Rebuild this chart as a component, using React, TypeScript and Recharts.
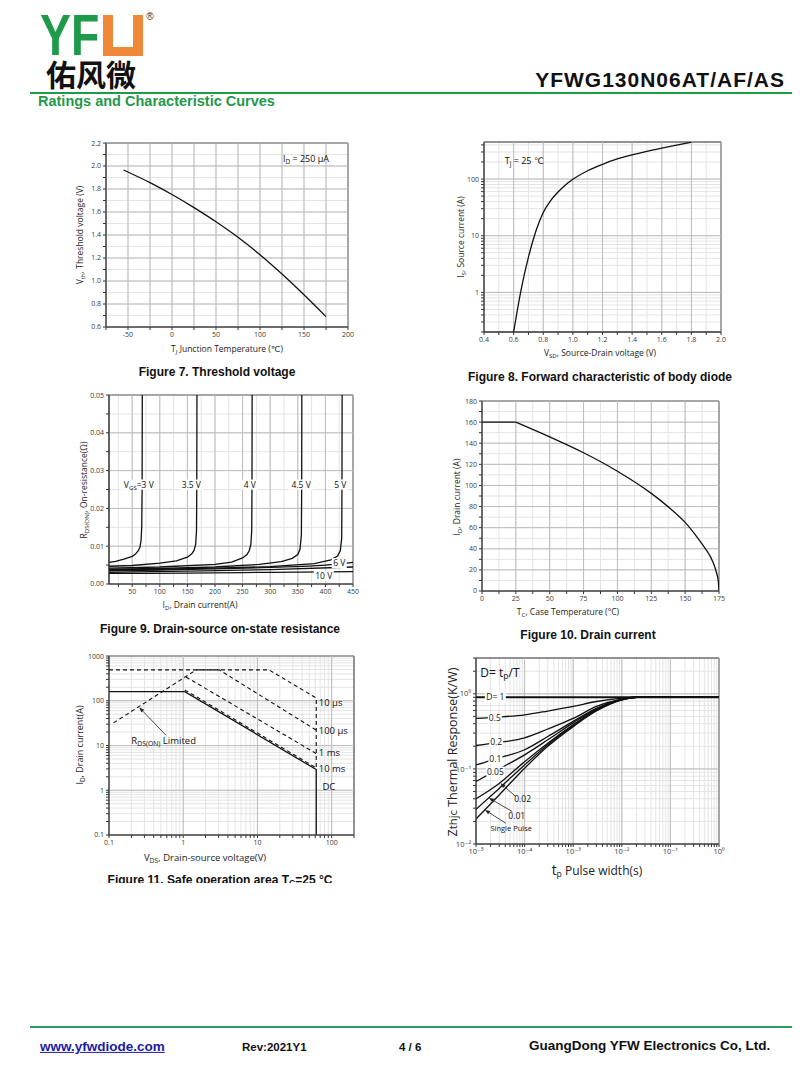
import React from "react";
import {
  LineChart,
  Line,
  XAxis,
  YAxis,
  CartesianGrid,
  ReferenceLine,
  ReferenceArea,
  ReferenceDot,
} from "recharts";

const FONT = "'Open Sans', 'DejaVu Sans', sans-serif";
const ARIAL = "'Liberation Sans', Arial, sans-serif";
const GREEN = "#1f9a4a";
const INK = "#111";

// ---- Figure 7: threshold voltage vs junction temperature
const tjTemp = [-55, -25, 0, 25, 50, 75, 100, 125, 150, 175];
const vthVolts = [1.965, 1.855, 1.752, 1.638, 1.515, 1.38, 1.228, 1.06, 0.88, 0.69];
const fig7X = [-75, -50, -25, 0, 25, 50, 75, 100, 125, 150, 175, 200];
const fig7XLabels = [-50, 0, 50, 100, 150, 200];
const fig7Y = [0.6, 0.7, 0.8, 0.9, 1.0, 1.1, 1.2, 1.3, 1.4, 1.5, 1.6, 1.7, 1.8, 1.9, 2.0, 2.1, 2.2];
const fig7YLabels = [0.6, 0.8, 1.0, 1.2, 1.4, 1.6, 1.8, 2.0, 2.2];

// ---- Figure 8: body diode forward characteristic
const vsdVolts = [0.6, 0.65, 0.7, 0.75, 0.8, 0.85, 0.9, 0.95, 1.0, 1.1, 1.2, 1.3, 1.4, 1.5, 1.6, 1.7, 1.8];
const isAmps = [0.2, 1.1, 4.2, 12, 25.7, 41.7, 58.9, 78.5, 98.9, 140, 182, 226, 266, 307, 350, 396, 446];
const fig8X = [0.4, 0.5, 0.6, 0.7, 0.8, 0.9, 1.0, 1.1, 1.2, 1.3, 1.4, 1.5, 1.6, 1.7, 1.8, 1.9, 2.0];
const fig8XLabels = [0.4, 0.6, 0.8, 1.0, 1.2, 1.4, 1.6, 1.8, 2.0];
const fig8YLabels = [1, 10, 100];

// ---- Figure 9: on-resistance vs drain current
const id3 = [8, 20, 35, 50, 56, 61, 64, 66, 67.3, 68, 68.3];
const r3 = [0.0057, 0.006, 0.0066, 0.0073, 0.0079, 0.0088, 0.0097, 0.0115, 0.015, 0.025, 0.05];
const id35 = [8, 50, 100, 130, 150, 158, 162, 165, 166.5, 167, 167.3];
const r35 = [0.0047, 0.0049, 0.0055, 0.0061, 0.0071, 0.008, 0.0089, 0.0105, 0.014, 0.025, 0.05];
const id4 = [8, 100, 200, 230, 250, 258, 262, 265, 266.5, 267, 267.3];
const r4 = [0.0042, 0.0045, 0.0052, 0.0058, 0.0069, 0.0078, 0.0088, 0.0105, 0.014, 0.025, 0.05];
const id45 = [8, 100, 200, 280, 320, 340, 350, 354, 356.5, 357, 357.3];
const r45 = [0.0039, 0.0041, 0.0045, 0.0052, 0.0059, 0.0068, 0.0078, 0.0092, 0.013, 0.025, 0.05];
const id5 = [8, 100, 200, 300, 380, 410, 422, 427, 429.5, 430, 430.3];
const r5 = [0.0037, 0.0039, 0.0042, 0.0046, 0.0054, 0.0064, 0.0074, 0.0088, 0.012, 0.025, 0.05];
const id6 = [8, 100, 200, 300, 400, 450];
const r6 = [0.0035, 0.0037, 0.004, 0.0044, 0.005, 0.0057];
const id8 = [8, 150, 300, 450];
const r8 = [0.0031, 0.0034, 0.0038, 0.0045];
const id10 = [8, 150, 300, 450];
const r10 = [0.0028, 0.0029, 0.0031, 0.0033];
const fig9X = [25, 50, 75, 100, 125, 150, 175, 200, 225, 250, 275, 300, 325, 350, 375, 400, 425, 450];
const fig9XLabels = [50, 100, 150, 200, 250, 300, 350, 400, 450];
const fig9Y = [0, 0.005, 0.01, 0.015, 0.02, 0.025, 0.03, 0.035, 0.04, 0.045, 0.05];
const fig9YLabels = [0, 0.01, 0.02, 0.03, 0.04, 0.05];

// ---- Figure 10: drain current vs case temperature
const tcFlat = [0, 25];
const idFlat = [160, 160];
const tcTemp = [25, 50, 75, 100, 125, 140, 150, 160, 165, 170, 173, 174.5, 175];
const idCase = [160, 146, 131, 113.5, 92.5, 77, 65, 49, 40, 29, 18, 9, 0];
const fig10X = [0, 12.5, 25, 37.5, 50, 62.5, 75, 87.5, 100, 112.5, 125, 137.5, 150, 162.5, 175];
const fig10XLabels = [0, 25, 50, 75, 100, 125, 150, 175];
const fig10Y = [0, 10, 20, 30, 40, 50, 60, 70, 80, 90, 100, 110, 120, 130, 140, 150, 160, 170, 180];
const fig10YLabels = [0, 20, 40, 60, 80, 100, 120, 140, 160, 180];

// ---- Figure 11: safe operating area
const dcV = [0.1, 1.05, 62, 62];
const dcI = [160, 160, 2.9, 0.1];
const ms10V = [1.05, 62];
const ms10I = [175, 3.15];
const ms1V = [1.09, 62];
const ms1I = [340, 6.6];
const us100V = [1.5, 3.05, 62];
const us100I = [490, 490, 22];
const us10V = [0.1, 14.3, 62, 62];
const us10I = [490, 490, 115, 3.1];
const rdsV = [0.115, 1.5];
const rdsI = [32, 490];
const fig11XLabels = [0.1, 1, 10, 100];
const fig11YLabels = [0.1, 1, 10, 100, 1000];

// ---- Figure 12: transient thermal impedance
const tp = [1e-5, 3e-5, 1e-4, 3e-4, 1e-3, 3e-3, 1e-2, 2e-2, 1];
const zD1 = [0.9, 0.9, 0.9, 0.9, 0.9, 0.9, 0.9, 0.9, 0.9];
const zD05 = [0.47, 0.49, 0.525, 0.59, 0.68, 0.79, 0.875, 0.9, 0.9];
const zD02 = [0.205, 0.225, 0.26, 0.34, 0.47, 0.68, 0.85, 0.9, 0.9];
const zD01 = [0.113, 0.14, 0.18, 0.27, 0.43, 0.64, 0.85, 0.9, 0.9];
const zD005 = [0.068, 0.1, 0.154, 0.244, 0.41, 0.625, 0.84, 0.9, 0.9];
const zD002 = [0.04, 0.064, 0.125, 0.22, 0.386, 0.61, 0.835, 0.9, 0.9];
const zD001 = [0.029, 0.055, 0.113, 0.21, 0.38, 0.6, 0.832, 0.9, 0.9];
const zSingle = [0.0215, 0.045, 0.102, 0.2, 0.366, 0.59, 0.83, 0.9, 0.9];
const fig12XDecades = [1e-5, 1e-4, 1e-3, 1e-2, 1e-1, 1];
const fig12XLabels = ["10⁻⁵", "10⁻⁴", "10⁻³", "10⁻²", "10⁻¹", "10⁰"];
const fig12YDecades = [0.01, 0.1, 1];
const fig12YLabels = ["10⁻²", "10⁻¹", "10⁰"];

const pts = (xs: number[], ys: number[]) => xs.map((x, i) => ({ x, y: ys[i] }));

// 1..9 per decade, kept inside [lo, hi]
const logTicks = (lo: number, hi: number) => {
  const out: number[] = [];
  for (let e = Math.floor(Math.log10(lo)); e <= Math.ceil(Math.log10(hi)); e++) {
    for (let m = 1; m < 10; m++) {
      const v = +(m * Math.pow(10, e)).toPrecision(6);
      if (v >= lo * 0.999 && v <= hi * 1.001) out.push(v);
    }
  }
  return out;
};

const near = (a: number, b: number) => Math.abs(a - b) <= Math.abs(b) * 1e-6 + 1e-12;
const only = (labels: number[], f: (v: number) => string = String) => (v: number) =>
  labels.some((l) => near(v, l)) ? f(v) : "";
const named = (vals: number[], names: string[]) => (v: number) => {
  const i = vals.findIndex((d) => near(v, d));
  return i >= 0 ? names[i] : "";
};

type PlotProps = {
  box: number[];
  xDomain: number[];
  yDomain: number[];
  xTicks: number[];
  yTicks: number[];
  xFmt: (v: number) => string;
  yFmt: (v: number) => string;
  xLog?: boolean;
  yLog?: boolean;
  xMajor?: number[];
  yMajor?: number[];
  tickFont?: number;
  children?: React.ReactNode;
};

function Plot({ box, xDomain, yDomain, xTicks, yTicks, xFmt, yFmt, xLog, yLog, xMajor = [], yMajor = [], tickFont = 7, children }: PlotProps) {
  const YW = 36, MT = 4, MR = 8, XH = 18;
  const [x0, y0, x1, y1] = box;
  const tick = { fontSize: tickFont, fill: "#3a3a3a", fontFamily: FONT };
  return (
    <div style={{ position: "absolute", left: x0 - YW, top: y0 - MT }}>
      <LineChart width={x1 - x0 + YW + MR} height={y1 - y0 + MT + XH} margin={{ top: MT, right: MR, bottom: 0, left: 0 }}>
        <CartesianGrid stroke="#e4e4e4" />
        <XAxis
          type="number"
          dataKey="x"
          scale={xLog ? "log" : "linear"}
          domain={xDomain}
          ticks={xTicks}
          interval={0}
          allowDataOverflow
          tickFormatter={xFmt}
          height={XH}
          tickSize={3}
          stroke="#333"
          tick={tick}
        />
        <YAxis
          type="number"
          scale={yLog ? "log" : "linear"}
          domain={yDomain}
          ticks={yTicks}
          interval={0}
          allowDataOverflow
          tickFormatter={yFmt}
          width={YW}
          tickSize={3}
          stroke="#333"
          tick={tick}
        />
        {xMajor.map((v) => (
          <ReferenceLine key={"mx" + v} x={v} stroke="#bcbcbc" />
        ))}
        {yMajor.map((v) => (
          <ReferenceLine key={"my" + v} y={v} stroke="#bcbcbc" />
        ))}
        <ReferenceArea x1={xDomain[0]} x2={xDomain[1]} y1={yDomain[0]} y2={yDomain[1]} fill="none" stroke="#333" ifOverflow="visible" />
        {children}
      </LineChart>
    </div>
  );
}

function Tag(p: any) {
  const { viewBox, t, size = 8, anchor = "middle", bg = 0, dx = 0, dy = 0 } = p;
  if (!viewBox) return null;
  const x = viewBox.x + (viewBox.width || 0) / 2 + dx;
  const y = viewBox.y + (viewBox.height || 0) / 2 + dy;
  const bx = anchor === "middle" ? x - bg / 2 : anchor === "end" ? x - bg : x;
  return (
    <g>
      {bg > 0 && <rect x={bx - 1} y={y - size * 0.6} width={bg + 2} height={size * 1.2} fill="#fff" />}
      <text x={x} y={y} dy={size * 0.36} textAnchor={anchor} fontSize={size} fontFamily={FONT} fill={INK}>
        {t}
      </text>
    </g>
  );
}

function Arrow(p: any) {
  const { x1, y1, x2, y2 } = p;
  if ([x1, y1, x2, y2].some((v) => typeof v !== "number" || isNaN(v))) return null;
  const a = Math.atan2(y2 - y1, x2 - x1);
  const L = 5, W = 2;
  const bx = x2 - L * Math.cos(a), by = y2 - L * Math.sin(a);
  const head = `${x2},${y2} ${bx + W * Math.sin(a)},${by - W * Math.cos(a)} ${bx - W * Math.sin(a)},${by + W * Math.cos(a)}`;
  return (
    <g>
      <line x1={x1} y1={y1} x2={bx} y2={by} stroke="#333" strokeWidth={0.9} />
      <polygon points={head} fill="#222" />
    </g>
  );
}

const note = (x: number, y: number, t: React.ReactNode, o: any = {}) => (
  <ReferenceDot key={`${x}-${y}`} x={x} y={y} r={0} fill="none" stroke="none" ifOverflow="visible" label={<Tag t={t} {...o} />} />
);

const sub = (main: string, s: string, rest = "", size = 8) => (
  <>
    <tspan>{main}</tspan>
    <tspan dy={2} fontSize={size * 0.72}>
      {s}
    </tspan>
    <tspan dy={-2}>{rest}</tspan>
  </>
);

function T({ x, y, size = 9, bold = false, rot = false, anchor = "middle", color = "#222", family = FONT, lh = 1.2, style = {}, children }: any) {
  const tx = anchor === "middle" ? "-50%" : anchor === "end" ? "-100%" : "0";
  return (
    <div
      style={{
        position: "absolute",
        left: x,
        top: y,
        transform: `translate(${tx},-50%)${rot ? " rotate(-90deg)" : ""}`,
        fontSize: size,
        fontWeight: bold ? 700 : 400,
        fontFamily: family,
        color,
        whiteSpace: "nowrap",
        lineHeight: lh,
        ...style,
      }}
    >
      {children}
    </div>
  );
}

const S = ({ c }: { c: string }) => <span style={{ fontSize: "0.72em", verticalAlign: "-0.3em", lineHeight: 0 }}>{c}</span>;

const solid = { stroke: INK, strokeWidth: 1.3, dot: false, activeDot: false } as const;

export default function App() {
  const f8Y = logTicks(0.2, 450);
  const f11X = logTicks(0.1, 200);
  const f11Y = logTicks(0.1, 1000);
  const f12X = logTicks(1e-5, 1);
  const f12Y = logTicks(0.01, 3);

  return (
    <div style={{ position: "absolute", left: 0, top: 0, width: 800, height: 1086, background: "#fff", overflow: "hidden", fontFamily: ARIAL }}>
      {/* header */}
      <div style={{ position: "absolute", left: 40, top: 13, fontFamily: ARIAL, fontWeight: 700, fontSize: 58, color: GREEN, lineHeight: 0.75, transform: "scaleX(0.8)", transformOrigin: "left top" }}>
        YF
      </div>
      <div style={{ position: "absolute", left: 103, top: 15, width: 40, height: 41, background: "#f0883a" }}>
        <div style={{ position: "absolute", left: 10, top: 0, width: 20, height: 32, background: "#fff" }} />
      </div>
      <T x={150} y={17} size={10} color="#333" family={ARIAL}>®</T>
      <T x={46} y={73} size={30} bold anchor="start" color="#111" lh={1} family="'Noto Sans CJK SC', sans-serif">佑风微</T>
      <T x={785} y={80} size={21} bold anchor="end" color="#111" family={ARIAL} style={{ letterSpacing: 1 }}>YFWG130N06AT/AF/AS</T>
      <div style={{ position: "absolute", left: 30, top: 92, width: 762, height: 2, background: GREEN }} />
      <T x={38} y={102} size={14.5} bold anchor="start" color={GREEN} family={ARIAL}>Ratings and Characteristic Curves</T>

      {/* Figure 7 */}
      <Plot
        box={[106, 143, 348, 327]}
        xDomain={[-75, 200]}
        yDomain={[0.6, 2.2]}
        xTicks={fig7X}
        yTicks={fig7Y}
        xFmt={only(fig7XLabels)}
        yFmt={only(fig7YLabels, (v) => v.toFixed(1))}
        xMajor={fig7X}
        yMajor={fig7YLabels}
      >
        <Line {...solid} data={pts(tjTemp, vthVolts)} dataKey="y" type="monotone" isAnimationActive={false} />
        {note(126, 2.067, sub("I", "D", " = 250 µA", 9), { size: 9, anchor: "start" })}
      </Plot>
      <T x={80} y={235} size={8.5} rot>V<S c="th" />, Threshold voltage (V)</T>
      <T x={227} y={349} size={8.5}>T<S c="J" /> Junction Temperature (℃)</T>
      <T x={217} y={372} size={12} bold family={ARIAL} color="#111">Figure 7. Threshold voltage</T>

      {/* Figure 8 */}
      <Plot
        box={[484, 142, 721, 332]}
        xDomain={[0.4, 2.0]}
        yDomain={[0.2, 450]}
        yLog
        xTicks={fig8X}
        yTicks={f8Y}
        xFmt={only(fig8XLabels, (v) => v.toFixed(1))}
        yFmt={only(fig8YLabels)}
        xMajor={fig8XLabels}
        yMajor={fig8YLabels}
      >
        <Line {...solid} data={pts(vsdVolts, isAmps)} dataKey="y" type="monotone" isAnimationActive={false} />
        {note(0.54, 210, sub("T", "j", " = 25 ℃", 9), { size: 9, anchor: "start" })}
      </Plot>
      <T x={461} y={237} size={8.5} rot>I<S c="S" />, Source current (A)</T>
      <T x={600} y={353} size={8.5}>V<S c="SD" />, Source-Drain voltage (V)</T>
      <T x={600} y={377} size={12} bold family={ARIAL} color="#111">Figure 8. Forward characteristic of body diode</T>

      {/* Figure 9 */}
      <Plot
        box={[109, 395, 353, 584]}
        xDomain={[8, 450]}
        yDomain={[0, 0.05]}
        xTicks={fig9X}
        yTicks={fig9Y}
        xFmt={only(fig9XLabels)}
        yFmt={only(fig9YLabels, (v) => v.toFixed(2))}
        xMajor={fig9XLabels}
        yMajor={fig9YLabels}
      >
        <Line {...solid} data={pts(id3, r3)} dataKey="y" type="linear" isAnimationActive={false} />
        <Line {...solid} data={pts(id35, r35)} dataKey="y" type="linear" isAnimationActive={false} />
        <Line {...solid} data={pts(id4, r4)} dataKey="y" type="linear" isAnimationActive={false} />
        <Line {...solid} data={pts(id45, r45)} dataKey="y" type="linear" isAnimationActive={false} />
        <Line {...solid} data={pts(id5, r5)} dataKey="y" type="linear" isAnimationActive={false} />
        <Line {...solid} data={pts(id6, r6)} dataKey="y" type="monotone" isAnimationActive={false} />
        <Line {...solid} data={pts(id8, r8)} dataKey="y" type="monotone" isAnimationActive={false} />
        <Line {...solid} data={pts(id10, r10)} dataKey="y" type="monotone" isAnimationActive={false} />
        {note(62, 0.0263, sub("V", "GS", "=3 V", 8.5), { size: 8.5, bg: 32 })}
        {note(157, 0.0263, "3.5 V", { size: 8.5, bg: 22 })}
        {note(263, 0.0263, "4 V", { size: 8.5, bg: 14 })}
        {note(356, 0.0263, "4.5 V", { size: 8.5, bg: 22 })}
        {note(427, 0.0263, "5 V", { size: 8.5, bg: 14 })}
        {note(425, 0.0055, "6 V", { size: 8.5, bg: 13 })}
        {note(397, 0.0021, "10 V", { size: 8.5, bg: 18 })}
      </Plot>
      <T x={84} y={490} size={8.5} rot>R<S c="DS(ON)" />, On-resistance(Ω)</T>
      <T x={200} y={605} size={8.5}>I<S c="D" />, Drain current(A)</T>
      <T x={220} y={629} size={12} bold family={ARIAL} color="#111">Figure 9. Drain-source on-state resistance</T>

      {/* Figure 10 */}
      <Plot
        box={[482, 401, 719, 591]}
        xDomain={[0, 175]}
        yDomain={[0, 180]}
        xTicks={fig10X}
        yTicks={fig10Y}
        xFmt={only(fig10XLabels)}
        yFmt={only(fig10YLabels)}
        xMajor={fig10XLabels}
        yMajor={fig10YLabels}
      >
        <Line {...solid} data={pts(tcFlat, idFlat)} dataKey="y" type="linear" isAnimationActive={false} />
        <Line {...solid} data={pts(tcTemp, idCase)} dataKey="y" type="monotone" isAnimationActive={false} />
      </Plot>
      <T x={457} y={497} size={8.5} rot>I<S c="D" />, Drain current (A)</T>
      <T x={568} y={612} size={8.5}>T<S c="C" />, Case Temperature (°C)</T>
      <T x={588} y={635} size={12} bold family={ARIAL} color="#111">Figure 10. Drain current</T>

      {/* Figure 11 */}
      <Plot
        box={[109, 656, 354, 835]}
        xDomain={[0.1, 200]}
        yDomain={[0.1, 1000]}
        xLog
        yLog
        xTicks={f11X}
        yTicks={f11Y}
        xFmt={only(fig11XLabels)}
        yFmt={only(fig11YLabels)}
        xMajor={fig11XLabels}
        yMajor={fig11YLabels}
      >
        <Line {...solid} data={pts(dcV, dcI)} dataKey="y" type="linear" isAnimationActive={false} />
        <Line {...solid} strokeDasharray="4 3" strokeWidth={1.1} data={pts(ms10V, ms10I)} dataKey="y" type="linear" isAnimationActive={false} />
        <Line {...solid} strokeDasharray="4 3" strokeWidth={1.1} data={pts(ms1V, ms1I)} dataKey="y" type="linear" isAnimationActive={false} />
        <Line {...solid} strokeDasharray="4 3" strokeWidth={1.1} data={pts(us100V, us100I)} dataKey="y" type="linear" isAnimationActive={false} />
        <Line {...solid} strokeDasharray="4 3" strokeWidth={1.1} data={pts(us10V, us10I)} dataKey="y" type="linear" isAnimationActive={false} />
        <Line {...solid} strokeDasharray="4 3" strokeWidth={1.1} data={pts(rdsV, rdsI)} dataKey="y" type="linear" isAnimationActive={false} />
        <ReferenceLine segment={[{ x: 0.585, y: 17 }, { x: 0.256, y: 70.5 }]} shape={Arrow} ifOverflow="visible" />
        {note(0.2, 12.7, sub("R", "DS(ON)", " Limited", 9.5), { size: 9.5, anchor: "start" })}
        {note(67, 91, "10 µs", { size: 9.5, anchor: "start" })}
        {note(67, 21.2, "100 µs", { size: 9.5, anchor: "start" })}
        {note(67, 6.8, "1 ms", { size: 9.5, anchor: "start" })}
        {note(67, 3.0, "10 ms", { size: 9.5, anchor: "start" })}
        {note(75, 1.19, "DC", { size: 9.5, anchor: "start" })}
      </Plot>
      <T x={80} y={745} size={9} rot>I<S c="D" />, Drain current(A)</T>
      <T x={205} y={858} size={9.5}>V<S c="DS" />, Drain-source voltage(V)</T>
      <div style={{ position: "absolute", left: 0, top: 872, width: 440, height: 11, overflow: "hidden" }}>
        <T x={220} y={8} size={12} bold family={ARIAL} color="#111">Figure 11. Safe operation area T<S c="C" />=25 °C</T>
      </div>

      {/* Figure 12 */}
      <Plot
        box={[476, 658, 719, 844]}
        xDomain={[1e-5, 1]}
        yDomain={[0.01, 3]}
        xLog
        yLog
        xTicks={f12X}
        yTicks={f12Y}
        xFmt={named(fig12XDecades, fig12XLabels)}
        yFmt={named(fig12YDecades, fig12YLabels)}
        xMajor={fig12XDecades}
        yMajor={fig12YDecades}
        tickFont={7.5}
      >
        <Line {...solid} strokeWidth={2} data={pts(tp, zD1)} dataKey="y" type="monotone" isAnimationActive={false} />
        <Line {...solid} data={pts(tp, zD05)} dataKey="y" type="monotone" isAnimationActive={false} />
        <Line {...solid} data={pts(tp, zD02)} dataKey="y" type="monotone" isAnimationActive={false} />
        <Line {...solid} data={pts(tp, zD01)} dataKey="y" type="monotone" isAnimationActive={false} />
        <Line {...solid} data={pts(tp, zD005)} dataKey="y" type="monotone" isAnimationActive={false} />
        <Line {...solid} data={pts(tp, zD002)} dataKey="y" type="monotone" isAnimationActive={false} />
        <Line {...solid} data={pts(tp, zD001)} dataKey="y" type="monotone" isAnimationActive={false} />
        <Line {...solid} data={pts(tp, zSingle)} dataKey="y" type="monotone" isAnimationActive={false} />
        <ReferenceLine segment={[{ x: 6.6e-5, y: 0.0427 }, { x: 3.2e-5, y: 0.0645 }]} shape={Arrow} ifOverflow="visible" />
        <ReferenceLine segment={[{ x: 5.6e-5, y: 0.027 }, { x: 1.85e-5, y: 0.041 }]} shape={Arrow} ifOverflow="visible" />
        <ReferenceLine segment={[{ x: 4.1e-5, y: 0.0189 }, { x: 1.53e-5, y: 0.0284 }]} shape={Arrow} ifOverflow="visible" />
        {note(1.23e-5, 1.9, sub("D= t", "p", "/T", 12), { size: 12, anchor: "start" })}
        {note(2.5e-5, 0.9, "D= 1", { size: 8.5, bg: 19 })}
        {note(2.44e-5, 0.474, "0.5", { size: 8.5, bg: 12 })}
        {note(2.6e-5, 0.227, "0.2", { size: 8.5, bg: 12 })}
        {note(2.5e-5, 0.136, "0.1", { size: 8.5, bg: 12 })}
        {note(2.5e-5, 0.092, "0.05", { size: 8.5, bg: 16 })}
        {note(9.1e-5, 0.04, "0.02", { size: 8.5 })}
        {note(6.9e-5, 0.0238, "0.01", { size: 8.5 })}
        {note(5.3e-5, 0.0162, "Single Pulse", { size: 7.5 })}
      </Plot>
      <T x={452} y={752} size={12.5} rot>Z<span style={{ fontSize: "0.9em" }}>thjc</span> Thermal Response(K/W)</T>
      <T x={597} y={870} size={12}>
        <span style={{ fontSize: "1.15em" }}>t</span>
        <S c="p" /> Pulse width(s)
      </T>

      {/* footer */}
      <div style={{ position: "absolute", left: 30, top: 1026, width: 762, height: 2, background: "#2a9d5c" }} />
      <T x={40} y={1047} size={13.5} bold anchor="start" color="#1b1ba8" family={ARIAL} style={{ textDecoration: "underline" }}>
        www.yfwdiode.com
      </T>
      <T x={242} y={1048} size={11.5} bold anchor="start" color="#111" family={ARIAL}>Rev:2021Y1</T>
      <T x={399} y={1048} size={11.5} bold anchor="start" color="#111" family={ARIAL}>4 / 6</T>
      <T x={529} y={1046} size={13.5} bold anchor="start" color="#111" family={ARIAL}>GuangDong YFW Electronics Co, Ltd.</T>
    </div>
  );
}
